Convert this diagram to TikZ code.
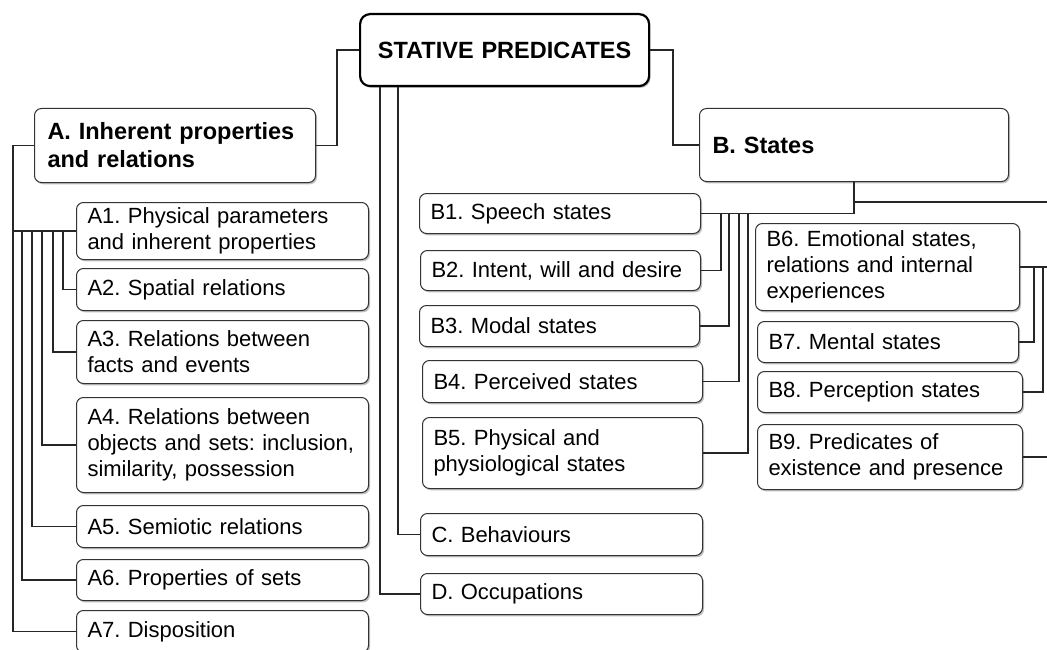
\documentclass[tikz,border=0pt]{standalone}
\usepackage{fontspec}
\setmainfont{Liberation Sans}
\usetikzlibrary{shadows}
\frenchspacing
\hyphenpenalty=10000
\begin{document}
\begin{tikzpicture}[x=1pt,y=-1pt,
  box/.style={draw=black!80, line width=1pt, rounded corners=7pt, fill=white,
    drop shadow={shadow xshift=1.5pt, shadow yshift=-1.8pt, opacity=0.35, fill=black!70},
    anchor=north west, align=left, inner xsep=11pt, inner ysep=3pt,
    font=\frenchspacing\fontsize{22}{26}\selectfont},
  headbox/.style={box, font=\frenchspacing\bfseries\fontsize{23.5}{28}\selectfont, inner xsep=13pt},
  link/.style={draw=black!85, line width=1.8pt}]
\useasboundingbox (0,0) rectangle (1047,650);
\clip (0,0) rectangle (1047,650);

% root
\node[box, line width=2.2pt, draw=black, rounded corners=10pt, align=center,
  text width=267pt, minimum height=72pt, font=\frenchspacing\bfseries\fontsize{23.5}{28}\selectfont]
  (SP) at (359,13) {STATIVE PREDICATES};

% A branch
\node[headbox, text width=255pt, minimum height=74pt] (A) at (34,108) {A. Inherent properties\\and relations};
\node[box, text width=270pt, minimum height=57pt] (A1) at (76,202) {A1. Physical parameters\\and inherent properties};
\node[box, text width=270pt, minimum height=42pt] (A2) at (76,268) {A2. Spatial relations};
\node[box, text width=270pt, minimum height=63pt] (A3) at (76,320) {A3. Relations between\\facts and events};
\node[box, text width=270pt, minimum height=95pt] (A4) at (76,397) {A4. Relations between\\objects and sets: inclusion,\\similarity, possession};
\node[box, text width=270pt, minimum height=42pt] (A5) at (76,505) {A5. Semiotic relations};
\node[box, text width=270pt, minimum height=41pt] (A6) at (76,559) {A6. Properties of sets};
\node[box, text width=270pt, minimum height=42pt] (A7) at (76,610) {A7. Disposition};

% B branch
\node[headbox, text width=283pt, minimum height=73pt] (B) at (699,108) {B. States};
\node[box, text width=259pt, minimum height=40pt] (B1) at (419,193) {B1. Speech states};
\node[box, text width=258pt, minimum height=40pt] (B2) at (420,250) {B2. Intent, will and desire};
\node[box, text width=258pt, minimum height=41pt] (B3) at (419,305) {B3. Modal states};
\node[box, text width=258pt, minimum height=42pt] (B4) at (422,360) {B4. Perceived states};
\node[box, text width=258pt, minimum height=71pt] (B5) at (422,417) {B5. Physical and\\physiological states};
\node[box, text width=242pt, minimum height=87pt] (B6) at (755,223) {B6. Emotional states,\\relations and internal\\experiences};
\node[box, text width=239pt, minimum height=41pt] (B7) at (757,321) {B7. Mental states};
\node[box, text width=243pt, minimum height=41pt] (B8) at (757,371) {B8. Perception states};
\node[box, text width=243pt, minimum height=65pt] (B9) at (757,424) {B9. Predicates of\\existence and presence};

% C, D
\node[box, text width=260pt, minimum height=42pt] (C) at (420,513) {C. Behaviours};
\node[box, text width=260pt, minimum height=41pt] (D) at (420,573) {D. Occupations};

% free ends at the right edge
\coordinate (bRight) at (1047,202);
\coordinate (edge) at (1047,0);

% root links
\draw[link] (SP.west) -- ++(-22,0) |- (A.east);
\draw[link] (SP.east) -- ++(23,0) |- (B.west);
\draw[link] ([xshift=21pt]SP.south west) |- (D.west);
\draw[link] ([xshift=39pt]SP.south west) |- (C.west);

% A links
\draw[link] (A.west) -- ++(-21,0) |- (A1.west);
\draw[link] (A.west) -- ++(-21,0) |- (A7.west);
\draw[link] (A2.west) -| ([xshift=-13pt]A1.west);
\draw[link] (A3.west) -| ([xshift=-23pt]A1.west);
\draw[link] (A4.west) -| ([xshift=-34pt]A1.west);
\draw[link] (A5.west) -| ([xshift=-44pt]A1.west);
\draw[link] (A6.west) -| ([xshift=-54pt]A1.west);

% B links
\draw[link] (B.south) |- (B1.east);
\draw[link] (B.south |- bRight) -- (bRight);
\draw[link] (B2.east) -| ([xshift=20pt]B1.east);
\draw[link] (B3.east) -| ([xshift=28pt]B1.east);
\draw[link] (B4.east) -| ([xshift=38pt]B1.east);
\draw[link] (B5.east) -| ([xshift=47pt]B1.east);

\draw[link] (B6.east) -- (B6.east -| edge);
\draw[link] (B7.east) -| ([xshift=14pt]B6.east);
\draw[link] (B8.east) -| ([xshift=23pt]B6.east);
\draw[link] (B9.east) -- (B9.east -| edge);
\end{tikzpicture}
\end{document}
